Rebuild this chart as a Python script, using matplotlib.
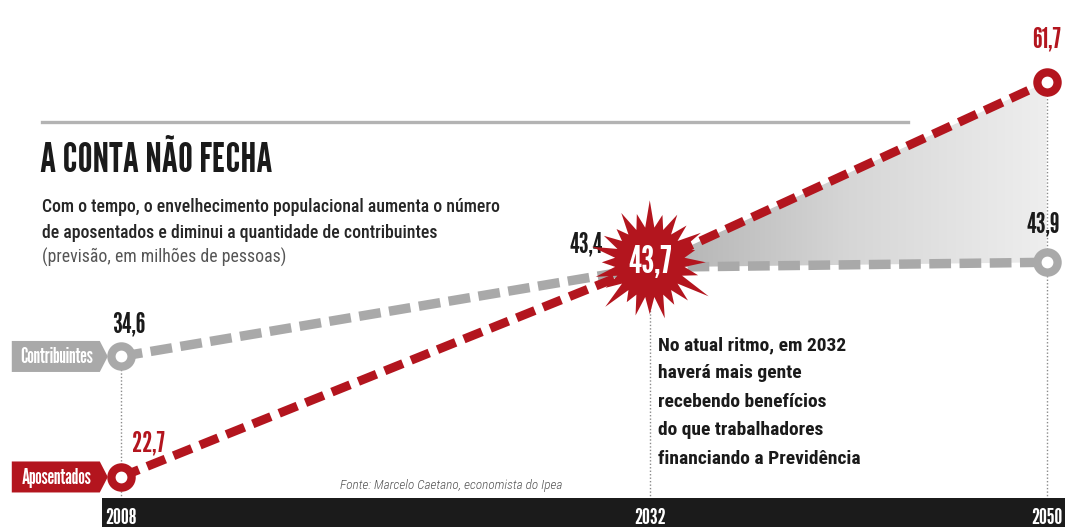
import numpy as np
import matplotlib
matplotlib.use("Agg")
import matplotlib.pyplot as plt
from matplotlib.patches import Polygon, Rectangle
from matplotlib.colors import LinearSegmentedColormap
from matplotlib.transforms import ScaledTranslation, blended_transform_factory

# dados (milhoes de pessoas)
anos = [2008, 2032, 2050]
aposentados = [22.7, 43.7, 61.7]
contribuintes = [34.6, 43.4, 43.9]
rotulos_apos = ["22,7", "43,7", "61,7"]
rotulos_contrib = ["34,6", "43,4", "43,9"]

titulo = "A CONTA NÃO FECHA"
subtitulo = ["Com o tempo, o envelhecimento populacional aumenta o número",
             "de aposentados e diminui a quantidade de contribuintes"]
unidade = "(previsão, em milhões de pessoas)"
nota = ["No atual ritmo, em 2032", "haverá mais gente", "recebendo benefícios",
        "do que trabalhadores", "financiando a Previdência"]
fonte = "Fonte: Marcelo Caetano, economista do Ipea"

VERMELHO = "#b3151e"
CINZA = "#a9a9a9"
GROSSA = ["League Gothic", "Oswald", "Roboto Condensed", "DejaVu Sans"]
ESTREITA = ["Roboto Condensed", "DejaVu Sans"]

W, H = 1069, 527
fig = plt.figure(figsize=(W / 100, H / 100), dpi=100)
ax = fig.add_axes([0, 0, 1, 1])
ax.axis("off")


def fx(x):
    return x / W


def fy(y):
    return 1 - y / H


def px(x, y):
    # deslocamento em pixels -> polegadas
    return x / 100, -y / 100


# area entre as curvas depois do cruzamento
area = ax.fill_between(anos[1:], contribuintes[1:], aposentados[1:],
                       facecolor="none", edgecolor="none")
degrade = LinearSegmentedColormap.from_list("degrade", ["#b0b0b0", "#d6d6d6", "#eeeeee"])
im = ax.imshow(np.linspace(0, 1, 256).reshape(1, -1), cmap=degrade, aspect="auto",
               extent=(anos[1], anos[2], contribuintes[1], aposentados[2]),
               origin="lower", zorder=1)
im.set_clip_path(area.get_paths()[0], transform=ax.transData)

ax.set_xlim(2002.52, 2051.02)
ax.set_ylim(17.76, 69.8)

# linhas pontilhadas verticais
topo = [contribuintes[0], aposentados[1], aposentados[2]]
for ano, y in zip(anos, topo):
    ax.plot([ano, ano], [17.76, y], color="#8a8a8a", lw=1, ls=(0, (1, 1.5)), zorder=1.5)

ax.plot(anos, contribuintes, color=CINZA, lw=6.8, dashes=(2.3, 0.9),
        dash_capstyle="butt", zorder=2)
ax.plot(anos, aposentados, color=VERMELHO, lw=6.4, dashes=(2.2, 1.0),
        dash_capstyle="butt", zorder=3)

for serie, cor in ((contribuintes, CINZA), (aposentados, VERMELHO)):
    ax.plot([anos[0], anos[2]], [serie[0], serie[2]], ls="none", marker="o", ms=14.5,
            mew=6, mfc="white", mec=cor, zorder=4)

# estrela do cruzamento em 2032
trans_estrela = fig.dpi_scale_trans + ScaledTranslation(anos[1], aposentados[1], ax.transData)
raios = [62, 50, 57, 47, 53, 60, 48, 56, 51, 63, 46, 55, 52, 58, 49, 54, 68, 50, 56, 47,
         59, 52, 55, 49]
n = len(raios)
verts = []
for i, r in enumerate(raios):
    a0 = np.pi / 2 + 2 * np.pi * i / n
    a1 = a0 + np.pi / n
    verts.append((r * np.cos(a0) / 100, r * np.sin(a0) / 100 + 0.02))
    verts.append((35 * np.cos(a1) / 100, 35 * np.sin(a1) / 100 + 0.02))
ax.add_patch(Polygon(verts, closed=True, facecolor=VERMELHO, edgecolor="none",
                     transform=trans_estrela, zorder=5))
ax.text(0, 0.02, rotulos_apos[1], transform=trans_estrela, ha="center", va="center",
        color="white", fontsize=27, family=GROSSA, zorder=6)

# valores
ax.annotate(rotulos_contrib[0], (anos[0], contribuintes[0]), xytext=(8, 24),
            textcoords="offset pixels", ha="center", va="baseline", color="#1a1a1a",
            fontsize=20, family=GROSSA)
ax.annotate(rotulos_apos[0], (anos[0], aposentados[0]), xytext=(11, 25),
            textcoords="offset pixels", ha="left", va="baseline", color=VERMELHO,
            fontsize=20, family=GROSSA)
ax.annotate(rotulos_contrib[1], (anos[1], contribuintes[1]), xytext=(-47, 15),
            textcoords="offset pixels", ha="right", va="baseline", color="#1a1a1a",
            fontsize=20, family=GROSSA)
ax.annotate(rotulos_contrib[2], (anos[2], contribuintes[2]), xytext=(-3, 30),
            textcoords="offset pixels", ha="center", va="baseline", color="#1a1a1a",
            fontsize=20, family=GROSSA)
ax.annotate(rotulos_apos[2], (anos[2], aposentados[2]), xytext=(0, 35),
            textcoords="offset pixels", ha="center", va="baseline", color=VERMELHO,
            fontsize=20, family=GROSSA)

# etiquetas das series
for serie, nome, cor in ((contribuintes, "Contribuintes", CINZA),
                         (aposentados, "Aposentados", VERMELHO)):
    tr = fig.dpi_scale_trans + ScaledTranslation(anos[0], serie[0], ax.transData)
    caixa = [px(-109, -15.5), px(-21, -15.5), px(-13, 0), px(-21, 15.5), px(-109, 15.5)]
    ax.add_patch(Polygon(caixa, closed=True, facecolor=cor, edgecolor="none",
                         transform=tr, zorder=4))
    ax.text(-0.645, -0.01, nome, transform=tr, ha="center", va="center", color="white",
            fontsize=15, family=GROSSA, zorder=5)

# faixa preta com os anos
ax.add_patch(Rectangle((fx(102), 0), 1 - fx(102) - fx(4), 29 / H, transform=ax.transAxes,
                       facecolor="#1b1b1b", edgecolor="none", zorder=7))
tr_anos = blended_transform_factory(ax.transData, ax.transAxes)
for ano in anos:
    ax.text(ano, 3 / H, str(ano), transform=tr_anos, ha="center", va="baseline",
            color="white", fontsize=16, family=GROSSA, zorder=8)

# cabecalho
fig.add_artist(plt.Line2D([fx(42), fx(908)], [fy(122), fy(122)], color="#b3b3b3", lw=2.4))
fig.text(fx(40), fy(172), titulo, ha="left", va="baseline", color="#1a1a1a",
         fontsize=30, family=GROSSA)
for i, linha in enumerate(subtitulo):
    fig.text(fx(42), fy(212 + 26 * i), linha, ha="left", va="baseline", color="#262626",
             fontsize=12.8, family=ESTREITA, fontweight="medium")
fig.text(fx(42), fy(263), unidade, ha="left", va="baseline", color="#555555",
         fontsize=12.8, family=ESTREITA)

for i, linha in enumerate(nota):
    fig.text(fx(658), fy(350 + 28.4 * i), linha, ha="left", va="baseline", color="#1a1a1a",
             fontsize=14, family=ESTREITA, fontweight="bold")

fig.text(fx(340), fy(489), fonte, ha="left", va="baseline", color="#555555",
         fontsize=9.5, family=ESTREITA, style="italic", fontweight="light")

fig.savefig("out.png", dpi=100)
